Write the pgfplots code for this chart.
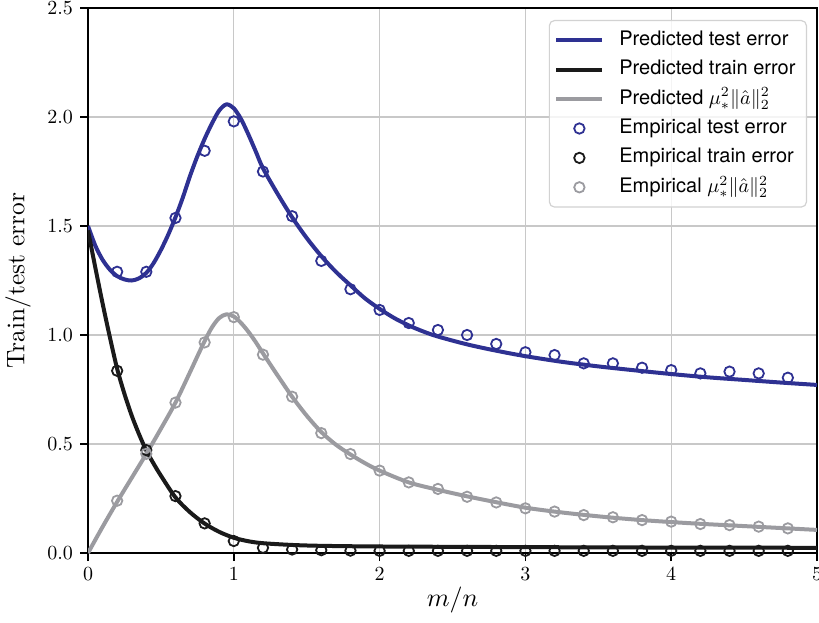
\documentclass[border=0pt]{standalone}
\usepackage{fontspec}
\usepackage{pgfplots}
\pgfplotsset{compat=1.18}
\newfontfamily\legendfont{TeX Gyre Heros}
\definecolor{tblue}{RGB}{46,49,146}
\definecolor{tgray}{RGB}{155,155,160}
\definecolor{tblack}{RGB}{26,26,26}
\definecolor{gridc}{RGB}{200,200,200}
\definecolor{legc}{RGB}{210,210,210}

\pgfplotsset{
  lineleg/.style={legend image code/.code={\draw[##1] (0pt,0pt) -- (23pt,0pt); \path (27.5pt,0pt);}},
  markleg/.style={legend image code/.code={\draw[##1,mark repeat=2,mark phase=2] plot coordinates {(0pt,0pt) (11.5pt,0pt) (23pt,0pt)}; \path (27.5pt,0pt);}},
}

\pgfplotstableread{
x y
0.2 1.29
0.4 1.29
0.6 1.537
0.8 1.845
1.0 1.98
1.2 1.75
1.4 1.545
1.6 1.34
1.8 1.21
2.0 1.115
2.2 1.055
2.4 1.023
2.6 1.0
2.8 0.959
3.0 0.921
3.2 0.908
3.4 0.870
3.6 0.870
3.8 0.850
4.0 0.839
4.2 0.824
4.4 0.832
4.6 0.824
4.8 0.804
}\emptest

\pgfplotstableread{
x y
0.2 0.836
0.4 0.472
0.6 0.261
0.8 0.136
1.0 0.055
1.2 0.024
1.4 0.016
1.6 0.013
1.8 0.011
2.0 0.010
2.2 0.010
2.4 0.010
2.6 0.010
2.8 0.010
3.0 0.010
3.2 0.010
3.4 0.010
3.6 0.010
3.8 0.010
4.0 0.010
4.2 0.010
4.4 0.010
4.6 0.010
4.8 0.010
}\emptrain

\pgfplotstableread{
x y
0.2 0.24
0.4 0.455
0.6 0.69
0.8 0.966
1.0 1.082
1.2 0.91
1.4 0.717
1.6 0.55
1.8 0.454
2.0 0.378
2.2 0.324
2.4 0.294
2.6 0.258
2.8 0.232
3.0 0.205
3.2 0.19
3.4 0.174
3.6 0.164
3.8 0.151
4.0 0.144
4.2 0.133
4.4 0.128
4.6 0.121
4.8 0.113
}\empnorm

\begin{document}
\begin{tikzpicture}
\begin{axis}[
  width=364.5pt, height=272.5pt, scale only axis,
  xmin=0, xmax=5, ymin=0, ymax=2.5,
  xtick={0,1,2,3,4,5}, ytick={0,0.5,1,1.5,2,2.5},
  yticklabel style={/pgf/number format/.cd,fixed,fixed zerofill,precision=1},
  tick pos=left, tick align=outside, major tick length=4pt,
  grid=major, grid style={gridc, line width=0.6pt},
  axis line style={line width=0.8pt},
  every tick/.style={black, line width=0.8pt},
  clip mode=individual,
  xlabel={$m/n$},
  ylabel={Train/test error},
  every axis x label/.style={at={(axis description cs:0.5,-0.0862)}, anchor=center, scale=1.3},
  every axis y label/.style={at={(axis description cs:-0.096,0.5)}, rotate=90, anchor=center, scale=1.27},
  legend cell align=left,
  legend style={at={(axis description cs:0.9863,0.978)}, anchor=north east,
    draw=legc, line width=0.6pt, fill=white, fill opacity=0.8, text opacity=1,
    rounded corners=2.5pt, inner sep=2.5pt, font=\legendfont, row sep=0pt,
    nodes={text height=7.5pt, text depth=2.5pt, inner ysep=2.35pt, inner xsep=3pt}},
]
\addplot[tblue, line width=2pt, smooth, lineleg]
coordinates {
(0,1.50) (0.05,1.41) (0.1,1.345) (0.15,1.30) (0.2,1.27) (0.25,1.255) (0.3,1.25)
(0.35,1.26) (0.4,1.285) (0.45,1.33) (0.5,1.39) (0.55,1.46) (0.6,1.54) (0.65,1.63)
(0.7,1.73) (0.75,1.82) (0.8,1.90) (0.85,1.97) (0.9,2.03) (0.95,2.058) (1.0,2.04)
(1.05,1.99) (1.1,1.92) (1.15,1.843) (1.2,1.765) (1.3,1.648) (1.4,1.54) (1.5,1.445)
(1.6,1.362) (1.7,1.29) (1.8,1.228) (1.9,1.168) (2.0,1.12) (2.1,1.078) (2.2,1.044)
(2.3,1.016) (2.4,0.993) (2.6,0.957) (2.8,0.928) (3.0,0.903) (3.25,0.877) (3.5,0.856)
(3.75,0.838) (4.0,0.821) (4.25,0.806) (4.5,0.794) (4.75,0.782) (5.0,0.771)};
\addlegendentry{Predicted test error}
\addplot[tblack, line width=2pt, smooth, lineleg]
coordinates {
(0,1.48) (0.05,1.31) (0.1,1.145) (0.15,0.99) (0.2,0.845) (0.25,0.73) (0.3,0.63)
(0.35,0.545) (0.4,0.47) (0.45,0.41) (0.5,0.355) (0.6,0.255) (0.7,0.187) (0.8,0.135)
(0.9,0.097) (1.0,0.07) (1.1,0.054) (1.2,0.045) (1.4,0.037) (1.6,0.033) (2.0,0.03)
(3.0,0.027) (4.0,0.025) (5.0,0.024)};
\addlegendentry{Predicted train error}
\addplot[tgray, line width=2pt, smooth, lineleg]
coordinates {
(0,0.0) (0.1,0.12) (0.2,0.235) (0.3,0.345) (0.4,0.455) (0.5,0.57) (0.6,0.69)
(0.7,0.83) (0.75,0.902) (0.8,0.972) (0.85,1.035) (0.9,1.078) (0.95,1.095) (1.0,1.085)
(1.05,1.055) (1.1,1.015) (1.15,0.968) (1.2,0.916) (1.3,0.815) (1.4,0.717) (1.5,0.63)
(1.6,0.555) (1.7,0.497) (1.8,0.452) (1.9,0.412) (2.0,0.378) (2.2,0.324) (2.4,0.29)
(2.6,0.26) (2.8,0.233) (3.0,0.208) (3.2,0.19) (3.4,0.175) (3.6,0.162) (3.8,0.151)
(4.0,0.142) (4.2,0.134) (4.4,0.127) (4.6,0.12) (4.8,0.113) (5.0,0.106)};
\addlegendentry{Predicted $\mu_*^2\|\hat{a}\|_2^2$}
\addplot[tblue, only marks, mark=o, mark size=2.6pt, mark options={line width=0.9pt}, markleg]
table[x=x,y=y] {\emptest};
\addlegendentry{Empirical test error}
\addplot[tblack, only marks, mark=o, mark size=2.6pt, mark options={line width=0.9pt}, markleg]
table[x=x,y=y] {\emptrain};
\addlegendentry{Empirical train error}
\addplot[tgray, only marks, mark=o, mark size=2.6pt, mark options={line width=0.9pt}, markleg]
table[x=x,y=y] {\empnorm};
\addlegendentry{Empirical $\mu_*^2\|\hat{a}\|_2^2$}
\end{axis}
\pgfresetboundingbox
\path[use as bounding box] ([xshift=-44pt,yshift=-34.5pt]current axis.south west) rectangle ([xshift=1pt,yshift=4pt]current axis.north east);
\end{tikzpicture}
\end{document}
